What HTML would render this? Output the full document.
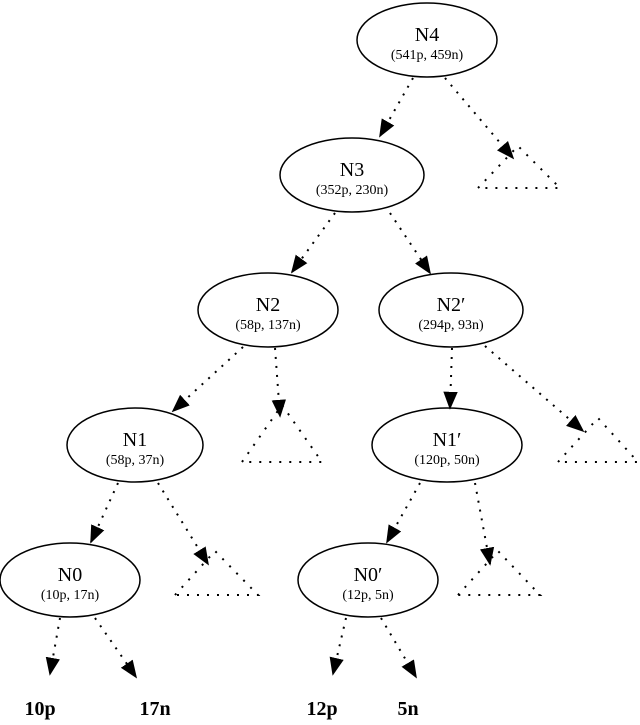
<!DOCTYPE html>
<html><head><style>body{margin:0;background:#fff}</style></head><body>
<svg width="640" height="720" viewBox="0 0 640 720" xmlns="http://www.w3.org/2000/svg" font-family="Liberation Serif, serif">
<defs><marker id="a" viewBox="0 0 10 10" refX="9" refY="5" markerWidth="9" markerHeight="9" orient="auto"><path d="M0,1 L10,5 L0,9 z" fill="#000"/></marker></defs>
<g fill="#fff" stroke="#000" stroke-width="1.5">
<ellipse cx="427" cy="40" rx="70" ry="37"/>
<ellipse cx="352" cy="175" rx="72" ry="37"/>
<ellipse cx="268" cy="310" rx="70" ry="37"/>
<ellipse cx="451" cy="310" rx="72" ry="37"/>
<ellipse cx="135" cy="445" rx="68" ry="37"/>
<ellipse cx="447" cy="445" rx="75" ry="37"/>
<ellipse cx="70" cy="580" rx="70" ry="37"/>
<ellipse cx="368" cy="580" rx="70" ry="37"/>
</g>
<g stroke="#000" stroke-width="2" stroke-dasharray="2,7" fill="none" marker-end="url(#a)">
<line x1="413" y1="78" x2="380" y2="136"/>
<line x1="445" y1="78" x2="513" y2="158"/>
<line x1="335" y1="213" x2="292" y2="272"/>
<line x1="390" y1="213" x2="430" y2="273"/>
<line x1="243" y1="347" x2="173" y2="411"/>
<line x1="275" y1="348" x2="280" y2="416"/>
<line x1="452" y1="348" x2="450" y2="408"/>
<line x1="485" y1="346" x2="583" y2="431"/>
<line x1="118" y1="483" x2="91" y2="542"/>
<line x1="158" y1="483" x2="208" y2="564"/>
<line x1="420" y1="483" x2="387" y2="542"/>
<line x1="475" y1="483" x2="490" y2="564"/>
<line x1="60" y1="618" x2="50" y2="674"/>
<line x1="95" y1="618" x2="136" y2="677"/>
<line x1="346" y1="618" x2="333" y2="674"/>
<line x1="381" y1="618" x2="416" y2="677"/>
</g>
<g stroke="#000" stroke-width="2" stroke-dasharray="2,8" fill="none">
<path d="M478,188 L518,146 L560,188 Z"/>
<path d="M242,462 L282,405 L322,462 Z"/>
<path d="M558,462 L598,418 L638,462 Z"/>
<path d="M175,595 L215,551 L258,595 Z"/>
<path d="M458,595 L498,551 L540,595 Z"/>
</g>
<g text-anchor="middle" fill="#000">
<text x="427" y="41" font-size="20">N4</text><text x="427" y="59" font-size="14">(541p, 459n)</text>
<text x="352" y="176" font-size="20">N3</text><text x="352" y="194" font-size="14">(352p, 230n)</text>
<text x="268" y="311" font-size="20">N2</text><text x="268" y="329" font-size="14">(58p, 137n)</text>
<text x="451" y="311" font-size="20">N2′</text><text x="451" y="329" font-size="14">(294p, 93n)</text>
<text x="135" y="446" font-size="20">N1</text><text x="135" y="464" font-size="14">(58p, 37n)</text>
<text x="447" y="446" font-size="20">N1′</text><text x="447" y="464" font-size="14">(120p, 50n)</text>
<text x="70" y="581" font-size="20">N0</text><text x="70" y="599" font-size="14">(10p, 17n)</text>
<text x="368" y="581" font-size="20">N0′</text><text x="368" y="599" font-size="14">(12p, 5n)</text>
<g font-size="20" font-weight="bold">
<text x="40" y="715">10p</text><text x="155" y="715">17n</text>
<text x="322" y="715">12p</text><text x="408" y="715">5n</text>
</g></g>
</svg>
</body></html>
